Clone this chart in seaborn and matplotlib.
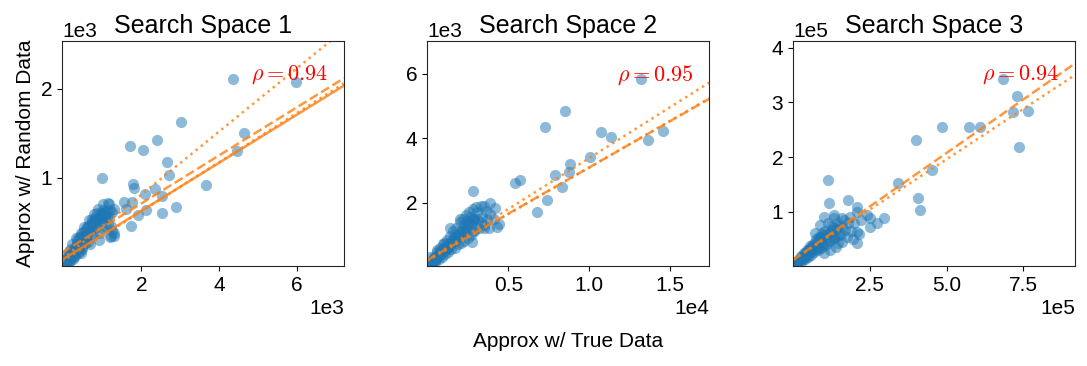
import matplotlib
matplotlib.use("Agg")
import matplotlib.pyplot as plt
import seaborn as sns
import pandas as pd

# Search Space 1 (outliers + dense cluster near origin)
ss1_x = [4364, 5990, 3020, 2403, 1706, 2050, 4650, 4470, 2650, 2720, 975, 3676, 1790, 1818, 2085, 2360,
         2541, 2885, 2520, 1900, 1767, 1540, 1612, 1125, 1035, 1122, 795, 924, 726, 1215, 1210, 915, 1720, 2128,
         30, 50, 80, 100, 120, 150, 170, 200, 220, 250, 270, 300, 320, 350, 380, 400, 420, 450, 480, 500,
         530, 560, 600, 620, 650, 700, 720, 760, 800, 850, 880, 950, 1000, 1050, 1100, 1150, 1200, 1280,
         60, 90, 140, 180, 240, 290, 340, 410, 470, 540, 590, 680, 740, 820, 900, 980, 1060, 1130, 1250,
         150, 200, 260, 310, 360, 430, 460, 520, 580, 640, 690, 780, 830, 870, 930, 1010, 1080, 1160, 1230,
         1300, 70, 110, 180, 230, 330, 390, 440, 510, 570, 630, 710, 780, 1180, 1300, 940, 880, 980, 1030]
ss1_y = [2117, 2080, 1632, 1426, 1358, 1313, 1508, 1305, 1181, 1028, 993, 915, 933, 881, 817, 869,
         790, 674, 599, 577, 730, 730, 644, 712, 618, 561, 524, 542, 505, 462, 346, 304, 458, 637,
         40, 70, 60, 110, 90, 140, 100, 170, 130, 200, 160, 230, 180, 250, 210, 300, 260, 340, 280, 390,
         310, 420, 350, 460, 400, 480, 530, 420, 550, 600, 540, 600, 640, 580, 620, 700, 640, 380,
         90, 50, 180, 80, 150, 120, 300, 180, 220, 260, 450, 250, 350, 470, 520, 430, 560, 480, 610,
         60, 250, 120, 320, 150, 380, 200, 450, 300, 520, 350, 590, 450, 650, 380, 700, 450, 560, 400,
         650, 120, 30, 200, 90, 220, 330, 150, 350, 380, 280, 420, 500, 330, 340, 560, 540, 590, 550]

# Search Space 2
ss2_x = [13196, 8487, 7269, 10718, 11337, 13608, 14579, 10036, 8818, 8756, 7868, 8343, 7372, 6794,
         5410, 5699, 2808, 3903, 3490, 4212, 3387, 2870, 2044, 4419, 4316, 3490, 2870, 1425, 2251, 2767,
         1631, 1012, 599, 186,
         50, 100, 150, 200, 250, 300, 350, 400, 450, 500, 550, 600, 700, 750, 800, 900, 950, 1000, 1100,
         1200, 1300, 1400, 1500, 1600, 1700, 1800, 1900, 2000, 2100, 2200, 2300, 2400, 2500, 2600, 2700,
         2900, 3100, 3300, 120, 280, 420, 620, 850, 1050, 1250, 1450, 1650, 1850, 2050, 2250, 2450, 2650,
         300, 500, 700, 900, 1100, 1300, 1500, 1700, 1900, 2100, 2300, 2500, 2700, 2900, 3200, 3500, 3700,
         400, 600, 800, 1000, 1200, 1400, 1600, 1800, 2000, 2200, 2400, 2600, 2800, 3000, 3300, 3600,
         3900, 4100, 3800, 2800, 3100]
ss2_y = [5844, 4842, 4346, 4191, 4035, 3932, 4222, 3415, 3209, 2950, 2847, 2485, 2092, 1710,
         2609, 2692, 2351, 1989, 1886, 1845, 1555, 1503, 1503, 1348, 1224, 1193, 1141, 1193, 1038, 780,
         935, 728, 521, 314,
         60, 100, 90, 160, 130, 200, 170, 250, 210, 300, 260, 340, 420, 380, 480, 450, 560, 520, 620,
         580, 700, 650, 800, 760, 900, 850, 980, 1050, 1000, 1150, 1100, 1250, 1200, 1350, 1300,
         1450, 1500, 1400, 40, 120, 180, 280, 400, 480, 560, 700, 820, 1000, 1120, 1300, 1420, 1550,
         80, 150, 250, 300, 400, 450, 550, 600, 700, 750, 800, 900, 1000, 1100, 1200, 1300, 1450,
         300, 450, 600, 700, 850, 950, 1100, 1200, 1400, 1500, 1600, 1700, 1800, 1850, 1900, 1750,
         1650, 1500, 1200, 1500, 1700]

# Search Space 3
ss3_x = [683400, 729000, 716000, 764900, 734500, 484600, 573700, 607400, 399800, 454200, 343300,
         408500, 414000, 113000, 117300, 178200, 207500, 207500, 297700, 272700, 251000, 251000,
         209700, 209700, 134700, 158600, 102100, 88000, 71700, 126000, 147800,
         5000, 10000, 15000, 20000, 25000, 30000, 35000, 40000, 45000, 50000, 55000, 60000, 65000,
         70000, 75000, 80000, 85000, 90000, 95000, 100000, 110000, 120000, 130000, 140000, 150000,
         160000, 170000, 180000, 8000, 18000, 28000, 38000, 48000, 58000, 68000, 78000, 88000, 98000,
         115000, 135000, 155000,
         10000, 20000, 30000, 40000, 50000, 60000, 70000, 80000, 90000, 100000, 110000, 120000, 130000,
         140000, 150000, 25000, 45000, 65000, 85000, 105000, 125000, 145000, 165000, 185000, 190000,
         200000, 220000, 240000, 175000, 195000, 215000, 160000, 140000, 120000, 100000, 35000, 55000,
         75000, 95000, 115000, 135000]
ss3_y = [343400, 311800, 282600, 284400, 218750, 255250, 255250, 255250, 230900, 176200, 153100,
         124500, 103200, 157900, 115300, 121400, 109300, 100100, 88000, 78900, 88000, 72800,
         63600, 42300, 88000, 88000, 91000, 75800, 61800, 66700, 42300,
         4000, 8000, 10000, 14000, 12000, 18000, 16000, 22000, 20000, 28000, 24000, 34000, 30000,
         38000, 32000, 44000, 36000, 50000, 42000, 56000, 60000, 62000, 70000, 68000, 75000,
         72000, 66000, 80000, 6000, 11000, 17000, 24000, 30000, 36000, 40000, 48000, 52000, 58000,
         48000, 55000, 60000,
         3000, 8000, 10000, 14000, 18000, 22000, 26000, 30000, 34000, 38000, 42000, 46000, 50000,
         54000, 58000, 20000, 30000, 42000, 55000, 65000, 75000, 80000, 85000, 90000, 65000,
         80000, 85000, 95000, 55000, 50000, 60000, 45000, 35000, 30000, 25000, 25000, 38000,
         50000, 62000, 80000, 95000]

titles = ["Search Space 1", "Search Space 2", "Search Space 3"]
rhos = [0.94, 0.95, 0.94]

# fitted lines per panel: slope, intercept, style
fit_slopes = [[0.270, 0.276, 0.270, 0.355],
              [0.288, 0.290, 0.317],
              [0.391, 0.368]]
fit_icepts = [[88, 70, 171, 100],
              [211, 190, 211],
              [12000, 12000]]
fit_styles = [["-", ":", "--", ":"],
              ["--", ":", ":"],
              ["--", ":"]]

xlims = [(-50, 7220), (0, 17400), (0, 918000)]
ylims = [(5, 2540), (25, 7020), (1000, 412000)]
xticks = [[2000, 4000, 6000], [5000, 10000, 15000], [250000, 500000, 750000]]
yticks = [[1000, 2000], [2000, 4000, 6000], [100000, 200000, 300000, 400000]]

sns.set_style("ticks")
plt.rcParams["font.family"] = ["Liberation Sans", "DejaVu Sans"]
plt.rcParams["mathtext.fontset"] = "cm"
plt.rcParams["text.color"] = "black"
plt.rcParams["axes.labelcolor"] = "black"

fig = plt.figure(figsize=(10.87, 3.66), dpi=100)
lefts = [0.057, 0.393, 0.7295]
data = [(ss1_x, ss1_y), (ss2_x, ss2_y), (ss3_x, ss3_y)]

for i in range(3):
    ax = fig.add_axes([lefts[i], 0.273, 0.2594, 0.615])
    df = pd.DataFrame({"x": data[i][0], "y": data[i][1]})
    sns.scatterplot(data=df, x="x", y="y", ax=ax, color="#1f77b4", alpha=0.5, s=65, linewidth=0)
    x0, x1 = xlims[i]
    for m, b, ls in zip(fit_slopes[i], fit_icepts[i], fit_styles[i]):
        ax.plot([x0, x1], [m * x0 + b, m * x1 + b], ls, color="#ff7f0e", alpha=0.8, lw=1.8)
    ax.set_xlim(xlims[i])
    ax.set_ylim(ylims[i])
    ax.set_xticks(xticks[i])
    ax.set_yticks(yticks[i])
    ax.ticklabel_format(style="sci", scilimits=(0, 0), axis="both")
    ax.tick_params(labelsize=15, colors="black")
    ax.xaxis.get_offset_text().set_fontsize(15)
    ax.yaxis.get_offset_text().set_fontsize(15)
    for sp in ax.spines.values():
        sp.set_color("0.15")
    ax.set_xlabel("")
    ax.set_ylabel("Approx w/ Random Data" if i == 0 else "", fontsize=15)
    ax.set_title(titles[i], fontsize=18)
    ax.text(0.945, 0.85, r"$\rho=%.2f$" % rhos[i], transform=ax.transAxes,
            ha="right", va="center", color="red", fontsize=16)

fig.text(0.5225, 0.068, "Approx w/ True Data", ha="center", va="center", fontsize=15)

fig.savefig("out.png", dpi=100)
